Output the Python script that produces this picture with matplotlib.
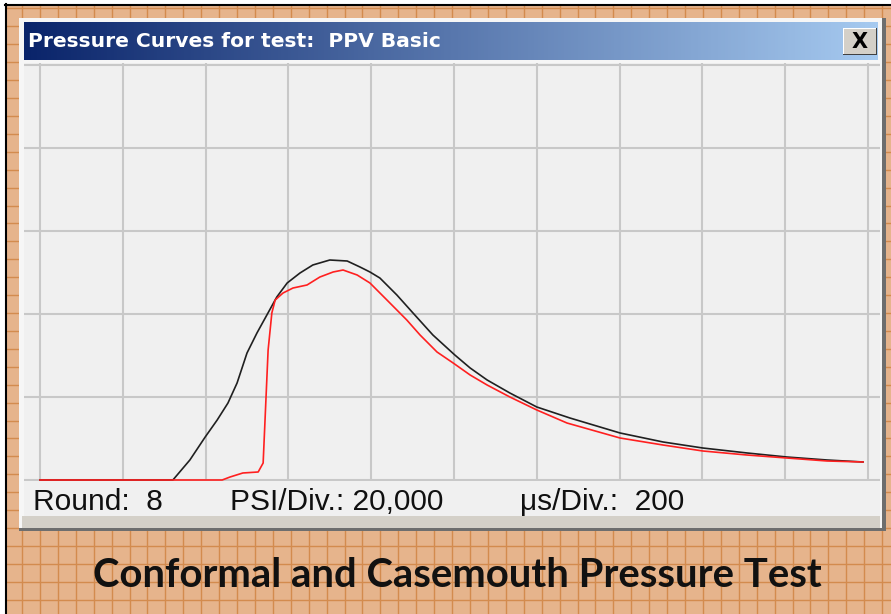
import numpy as np
import matplotlib
matplotlib.use("Agg")
import matplotlib.pyplot as plt
from matplotlib.patches import Rectangle

# === 1. Data (time in us, pressure in psi) ===
black_t = [0, 321, 362, 399, 428, 454, 476, 500, 524, 548, 572, 597, 628, 659,
           700, 742, 773, 797, 821, 862, 901, 949, 1002, 1039, 1080, 1135, 1200,
           1280, 1401, 1505, 1601, 1708, 1804, 1901, 1988]
black_p = [0, 0, 4820, 10360, 14460, 18550, 23370, 30600, 35420, 39760, 44100,
           47470, 49880, 51810, 53010, 52770, 51320, 50120, 48670, 44580, 40240,
           34940, 30120, 26990, 24100, 20960, 17590, 14940, 11330, 9160, 7710,
           6510, 5540, 4820, 4340]

red_t = [0, 440, 459, 490, 527, 539, 546, 551, 560, 568, 587, 611, 645, 676,
         708, 732, 766, 797, 838, 886, 918, 959, 998, 1039, 1080, 1135, 1200,
         1273, 1401, 1505, 1601, 1708, 1804, 1901, 1988]
red_p = [0, 0, 720, 1690, 1930, 4100, 20000, 31320, 40240, 43370, 45060, 46260,
         46990, 48910, 50120, 50600, 49400, 47470, 43370, 38550, 34940, 30840,
         28190, 25300, 22890, 20000, 16870, 13730, 10120, 8430, 6990, 6020, 5300,
         4580, 4340]

title = "Pressure Curves for test:  PPV Basic"
caption = "Conformal and Casemouth Pressure Test"
status = ["Round:  8", "PSI/Div.: 20,000", "\u03bcs/Div.:  200"]
psi_div = 20000
us_div = 200

W, H = 891, 614

# === 2. Figure and pixel-space background axes ===
fig = plt.figure(figsize=(W / 100, H / 100), dpi=100)
bg = fig.add_axes([0, 0, 1, 1])
bg.set_facecolor("#E6B48C")
bg.axis("off")
bg.add_patch(Rectangle((0, 0), W, H, fc="#E6B48C", ec="none", zorder=0))

# graph paper
gx = 22 + 17.92 * np.arange(-2, 50)
gy = 546 - 17.92 * np.arange(-4, 32)
bg.vlines(gx, 0, H, color="#D38B4E", lw=1.0, zorder=1)
bg.hlines(gy, 0, W, color="#D38B4E", lw=1.0, zorder=1)

# black frame top / left
bg.add_patch(Rectangle((0, 0), W, 4, fc="white", ec="none", zorder=2))
bg.add_patch(Rectangle((0, 0), 5, H, fc="white", ec="none", zorder=2))
bg.plot([5, W], [4.5, 4.5], color="black", lw=1.5, zorder=3)
bg.plot([5.5, 5.5], [4, H], color="black", lw=1.5, zorder=3)

# window frame and shadow
bg.add_patch(Rectangle((19, 18), 867, 513, fc="#6E6E6E", ec="none", zorder=4))
bg.add_patch(Rectangle((19, 18), 863, 510, fc="#F6F6F6", ec="none", zorder=5))
bg.add_patch(Rectangle((24, 481), 856, 35, fc="#F0F0F0", ec="none", zorder=6))
bg.add_patch(Rectangle((22, 516), 858, 12, fc="#D4D0C8", ec="none", zorder=6))

# title bar gradient
grad = np.linspace(0, 1, 256)
c0 = np.array([10, 36, 106]) / 255
c1 = np.array([166, 202, 240]) / 255
img = (c0[None, :] * (1 - grad[:, None]) + c1[None, :] * grad[:, None])[None, :, :]
bg.imshow(img, extent=(24, 878, 60, 22), aspect="auto", zorder=7)
bg.text(28, 41.5, title, color="white", fontsize=14.6, fontweight="bold",
        family="DejaVu Sans", va="center", ha="left", zorder=8)

# close button
bg.add_patch(Rectangle((843, 28), 34, 27, fc="#404040", ec="none", zorder=8))
bg.add_patch(Rectangle((843, 28), 33, 26, fc="white", ec="none", zorder=8))
bg.add_patch(Rectangle((844, 29), 32, 25, fc="#D4D0C8", ec="none", zorder=9))
bg.text(860, 42, "X", color="black", fontsize=15, fontweight="bold",
        family="DejaVu Sans", ha="center", va="center", zorder=10)

# status line
for s, x in zip(status, [33, 230, 520]):
    bg.text(x, 510, s, fontsize=21.5, family="Liberation Sans", color="#101010",
            ha="left", va="baseline", zorder=10)

# caption
bg.text(457, 587, caption, fontsize=28.8, fontweight="bold", family="Lato",
        color="#111111", ha="center", va="baseline", zorder=10)

bg.set_xlim(0, W)
bg.set_ylim(H, 0)

# === 3. Plot area ===
left, right, top, bottom = 24, 880, 63, 481
ax = fig.add_axes([left / W, 1 - bottom / H, (right - left) / W, (bottom - top) / H])
ax.set_facecolor("#F0F0F0")
px_div_x, px_div_y = 82.8, 83.0
ax.set_xlim((left - 40) / px_div_x * us_div, (right - 40) / px_div_x * us_div)
ax.set_ylim((480 - bottom) / px_div_y * psi_div, (480 - top) / px_div_y * psi_div)
ax.set_xticks(np.arange(0, 10 * us_div + 1, us_div))
ax.set_yticks(np.arange(0, 5 * psi_div + 1, psi_div))
ax.grid(True, color="#C8C8C8", lw=1.5)
ax.set_axisbelow(True)
ax.tick_params(length=0, labelbottom=False, labelleft=False)
for sp in ax.spines.values():
    sp.set_visible(False)

ax.plot(black_t, black_p, color="#202020", lw=1.2)
ax.plot(red_t, red_p, color="#FF2020", lw=1.2)

fig.savefig("out.png", dpi=100)
